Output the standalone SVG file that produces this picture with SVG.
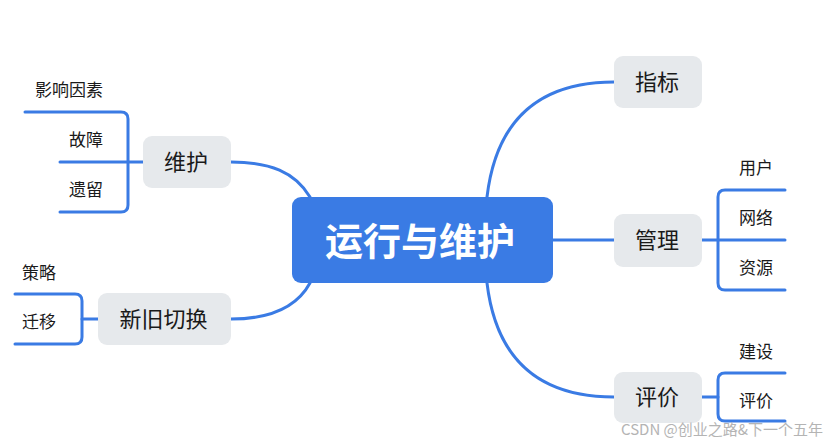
<svg xmlns="http://www.w3.org/2000/svg" width="834" height="445" viewBox="0 0 834 445">
<style>
.ln{fill:none;stroke:#3a7be4;stroke-width:3;stroke-linecap:round}
.nb{fill:#e6e9ec}
.t1{font-family:"Noto Sans CJK SC","Noto Sans",sans-serif;font-size:22px;fill:#1a1a1a;text-anchor:middle;dominant-baseline:central}
.t2{font-family:"Noto Sans CJK SC","Noto Sans",sans-serif;font-size:17px;fill:#1a1a1a;dominant-baseline:central}
.tc{font-family:"Noto Sans CJK SC","Noto Sans",sans-serif;font-size:38px;font-weight:bold;fill:#fff;text-anchor:middle;dominant-baseline:central}
.wm{font-family:"Noto Sans CJK SC","Noto Sans",sans-serif;font-size:15px;fill:#b4b4b4;text-anchor:end;dominant-baseline:central}
</style>
<rect width="834" height="445" fill="#fff"/>
<g id="connectors">
<path class="ln" d="M231 162 C270 162 295 172 310 197"/>
<path class="ln" d="M231 319 C275 319 298 305 310 283"/>
<path class="ln" d="M487 197 C495 130 530 82 614 82"/>
<path class="ln" d="M553 240 H614"/>
<path class="ln" d="M487 283 C495 350 530 397 614 397"/>
<path class="ln" d="M25 112 H121 Q128 112 128 119 V205 Q128 212 121 212 H60"/>
<path class="ln" d="M60 162 H143"/>
<path class="ln" d="M15 294 H75 Q82 294 82 301 V337 Q82 344 75 344 H15"/>
<path class="ln" d="M82 319 H98"/>
<path class="ln" d="M785 190 H725 Q718 190 718 197 V283 Q718 290 725 290 H785"/>
<path class="ln" d="M702 240 H785"/>
<path class="ln" d="M785 373 H725 Q718 373 718 380 V414 Q718 421 725 421 H785"/>
<path class="ln" d="M702 397 H718"/>
</g>
<g id="center"><rect x="292" y="197" width="261" height="86" rx="9" fill="#3a7be4"/><text class="tc" x="420" y="238">运行与维护</text></g>
<g id="n-zhibiao"><rect class="nb" x="614" y="56" width="88" height="52" rx="9"/><text class="t1" x="657" y="80">指标</text></g>
<g id="n-guanli"><rect class="nb" x="614" y="214" width="88" height="53" rx="9"/><text class="t1" x="657" y="238">管理</text></g>
<g id="n-pingjia"><rect class="nb" x="614" y="372" width="88" height="51" rx="9"/><text class="t1" x="657" y="395">评价</text></g>
<g id="n-weihu"><rect class="nb" x="143" y="136" width="88" height="52" rx="9"/><text class="t1" x="186" y="160">维护</text></g>
<g id="n-qiehuan"><rect class="nb" x="98" y="293" width="133" height="52" rx="9"/><text class="t1" x="163.5" y="317">新旧切换</text></g>
<g id="s-yonghu"><text class="t2" x="739" y="166">用户</text></g>
<g id="s-wangluo"><text class="t2" x="739" y="216">网络</text></g>
<g id="s-ziyuan"><text class="t2" x="739" y="266">资源</text></g>
<g id="s-jianshe"><text class="t2" x="739" y="350">建设</text></g>
<g id="s-pingjia"><text class="t2" x="739" y="399">评价</text></g>
<g id="s-yingxiang"><text class="t2" x="103" y="88" text-anchor="end">影响因素</text></g>
<g id="s-guzhang"><text class="t2" x="103" y="138" text-anchor="end">故障</text></g>
<g id="s-yiliu"><text class="t2" x="103" y="188" text-anchor="end">遗留</text></g>
<g id="s-celue"><text class="t2" x="22" y="271">策略</text></g>
<g id="s-qianyi"><text class="t2" x="22" y="320">迁移</text></g>
<text class="wm" x="823" y="428">CSDN @创业之路&amp;下一个五年</text>
</svg>
